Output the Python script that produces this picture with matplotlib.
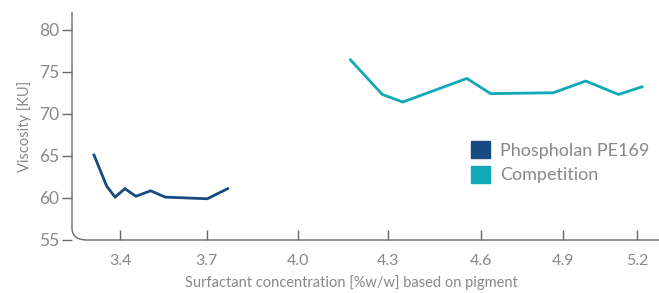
import numpy as np
import matplotlib.pyplot as plt
from matplotlib.path import Path
from matplotlib.patches import PathPatch, Rectangle

plt.rcParams['font.family'] = ['Lato', 'DejaVu Sans']

# 数据
phospholan_x = [3.31, 3.354, 3.383, 3.417, 3.455, 3.506, 3.556, 3.702, 3.769]
phospholan_y = [65.1, 61.4, 60.1, 61.1, 60.2, 60.85, 60.1, 59.9, 61.1]
competition_x = [4.175, 4.28, 4.347, 4.555, 4.636, 4.864, 4.991, 5.125, 5.22]
competition_y = [76.4, 72.3, 71.4, 74.2, 72.4, 72.5, 73.9, 72.3, 73.2]
x_ticks = [3.4, 3.7, 4.0, 4.3, 4.6, 4.9, 5.2]
y_ticks = [55, 60, 65, 70, 75, 80]
series_names = ['Phospholan PE169', 'Competition']

# 原图的横轴刻度间距不均匀
X_KNOTS = np.array(x_ticks)
X_PIX = np.array([120, 206.7, 297.7, 388.3, 480.7, 563.3, 637.0])
S0 = (X_PIX[1] - X_PIX[0]) / (X_KNOTS[1] - X_KNOTS[0])
S1 = (X_PIX[-1] - X_PIX[-2]) / (X_KNOTS[-1] - X_KNOTS[-2])


def fwd(x):
    x = np.asarray(x, dtype=float)
    y = np.interp(x, X_KNOTS, X_PIX)
    y = np.where(x < X_KNOTS[0], X_PIX[0] + (x - X_KNOTS[0]) * S0, y)
    y = np.where(x > X_KNOTS[-1], X_PIX[-1] + (x - X_KNOTS[-1]) * S1, y)
    return y


def inv(p):
    p = np.asarray(p, dtype=float)
    x = np.interp(p, X_PIX, X_KNOTS)
    x = np.where(p < X_PIX[0], X_KNOTS[0] + (p - X_PIX[0]) / S0, x)
    x = np.where(p > X_PIX[-1], X_KNOTS[-1] + (p - X_PIX[-1]) / S1, x)
    return x


W, H = 659, 293
fig = plt.figure(figsize=(W / 100, H / 100), dpi=100)
ax = fig.add_axes([72 / W, 1 - 240 / H, 1 - 72 / W, (240 - 12) / H])
ax.set_xscale('function', functions=(fwd, inv))

blue = '#174a80'
cyan = '#10a9b8'
grey = '#888888'
axis_c = '#6a6a6a'

ax.plot(phospholan_x, phospholan_y, color=blue, lw=2.0, solid_joinstyle='miter')
ax.plot(competition_x, competition_y, color=cyan, lw=2.0, solid_joinstyle='miter')

ax.set_xlim(float(inv(72)), float(inv(659)))
ax.set_ylim(55, 82.1)
ax.set_xticks(x_ticks)
ax.set_xticklabels(['%.1f' % v for v in x_ticks])
ax.set_yticks(y_ticks)

for s in ax.spines.values():
    s.set_visible(False)

# 圆角坐标轴
r_x, r_y = 15 / (W - 72), 12 / 228
verts = [(0, 1), (0, r_y), (0, 0), (r_x, 0), (1, 0)]
codes = [Path.MOVETO, Path.LINETO, Path.CURVE3, Path.CURVE3, Path.LINETO]
ax.add_patch(PathPatch(Path(verts, codes), transform=ax.transAxes, fill=False,
                       edgecolor=axis_c, lw=1.0, clip_on=False))

ax.tick_params(axis='x', direction='in', length=7, width=1, color=axis_c,
               labelcolor=grey, labelsize=11.5, pad=10)
ax.tick_params(axis='y', direction='out', length=7, width=1, color=axis_c,
               labelcolor=grey, labelsize=12.5, pad=2)

ax.set_ylabel('Viscosity [KU]', color=grey, fontsize=10.5, labelpad=5)
fig.text(351 / W, 1 - 283 / H, 'Surfactant concentration [%w/w] based on pigment',
         color=grey, fontsize=10.5, ha='center', va='center')

leg = ax.legend([Rectangle((0, 0), 1, 1, color=blue), Rectangle((0, 0), 1, 1, color=cyan)],
                series_names, loc='upper left',
                bbox_to_anchor=((471 - 72) / (W - 72), 1 - (141 - 12) / 228),
                frameon=False, handlelength=1.05, handleheight=1.05,
                handletextpad=0.55, labelspacing=0.4, borderaxespad=0, borderpad=0,
                prop={'size': 13})
for t in leg.get_texts():
    t.set_color(grey)

fig.savefig('out.png', dpi=100)
